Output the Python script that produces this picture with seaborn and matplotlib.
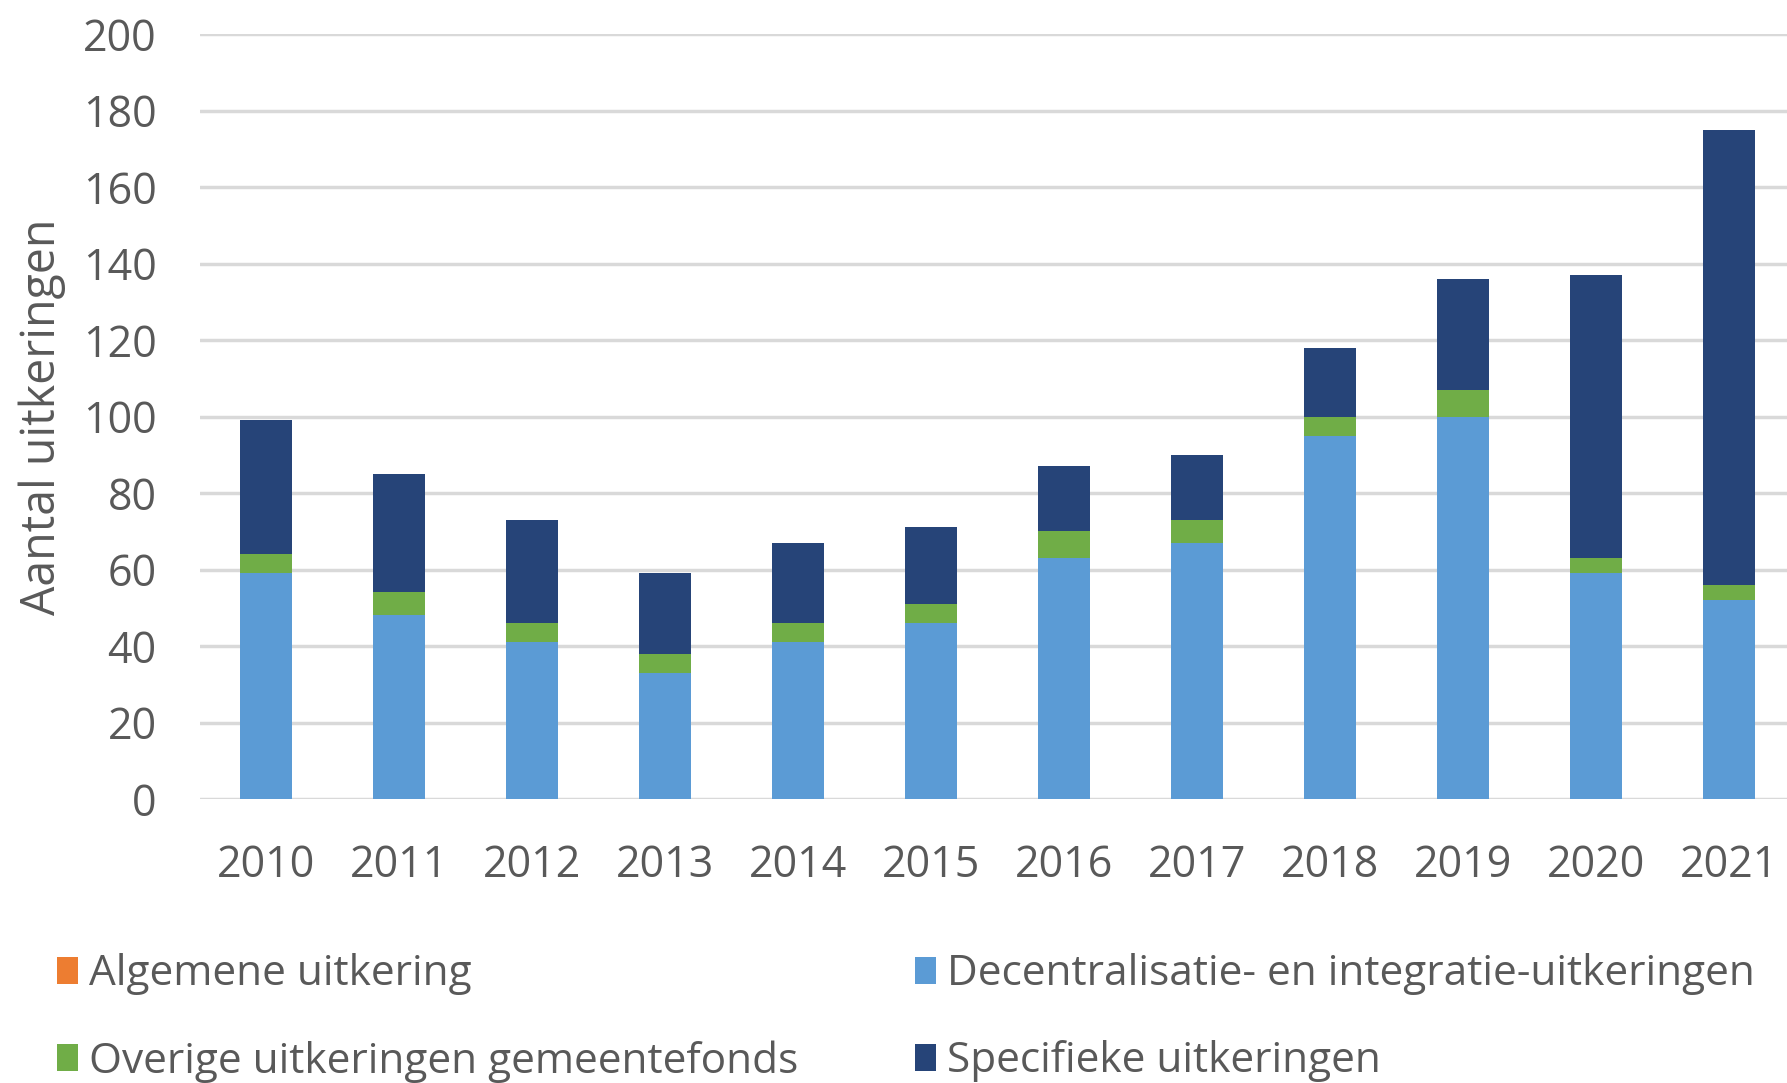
import matplotlib
matplotlib.use("Agg")
import matplotlib.pyplot as plt
import seaborn as sns
import numpy as np
from matplotlib.patches import Patch

# --- data ---
years = ['2010', '2011', '2012', '2013', '2014', '2015',
         '2016', '2017', '2018', '2019', '2020', '2021']
algemene = [0, 0, 0, 0, 0, 0, 0, 0, 0, 0, 0, 0]
decentralisatie = [59, 48, 41, 33, 41, 46, 63, 67, 95, 100, 59, 52]
overige = [5, 6, 5, 5, 5, 5, 7, 6, 5, 7, 4, 4]
specifieke = [35, 31, 27, 21, 21, 20, 17, 17, 18, 29, 74, 119]

labels = ['Algemene uitkering',
          'Decentralisatie- en integratie-uitkeringen',
          'Overige uitkeringen gemeentefonds',
          'Specifieke uitkeringen']
colors = ['#ED7D31', '#5B9BD5', '#70AD47', '#264478']

# --- style ---
sns.set_theme(style='white')
plt.rcParams['font.family'] = ['Open Sans', 'DejaVu Sans']
plt.rcParams['font.size'] = 31
text_grey = '#595959'

fig = plt.figure(figsize=(17.87, 10.83), dpi=100)
ax = fig.add_axes([0.1117, 0.2622, 0.8933, 0.7064])

# stacked bars: draw cumulative totals from the top segment down
base = np.array(algemene)
level1 = base + np.array(decentralisatie)
level2 = level1 + np.array(overige)
level3 = level2 + np.array(specifieke)

for heights, col in [(level3, colors[3]), (level2, colors[2]),
                     (level1, colors[1]), (base, colors[0])]:
    sns.barplot(x=years, y=heights, color=col, saturation=1,
                width=0.39, linewidth=0, ax=ax)

ax.set_ylim(0, 200)
ax.set_yticks(range(0, 201, 20))
ax.set_xlim(-0.5, 11.5)
ax.set_axisbelow(True)
ax.yaxis.grid(True, color='#d9d9d9', linewidth=2.5)
ax.xaxis.grid(False)
for s in ax.spines.values():
    s.set_visible(False)

ax.tick_params(axis='y', length=0, pad=31, labelcolor=text_grey, labelsize=31)
ax.tick_params(axis='x', length=0, pad=32, labelcolor=text_grey, labelsize=31)
ax.set_xlabel('')
ax.set_ylabel('Aantal uitkeringen', color=text_grey, fontsize=33.5, labelpad=12)

# legend: row-wise order with two columns
order = [0, 2, 1, 3]
handles = [Patch(facecolor=colors[i], edgecolor='none') for i in order]
fig.legend(handles, [labels[i] for i in order], ncol=2,
           loc='upper left', bbox_to_anchor=(0.02, 0.1392),
           frameon=False, fontsize=30.5, labelcolor=text_grey,
           handlelength=0.5, handleheight=0.6, handletextpad=0.25,
           columnspacing=2.76, labelspacing=1.06, borderpad=0)

fig.savefig('out.png', dpi=100)
